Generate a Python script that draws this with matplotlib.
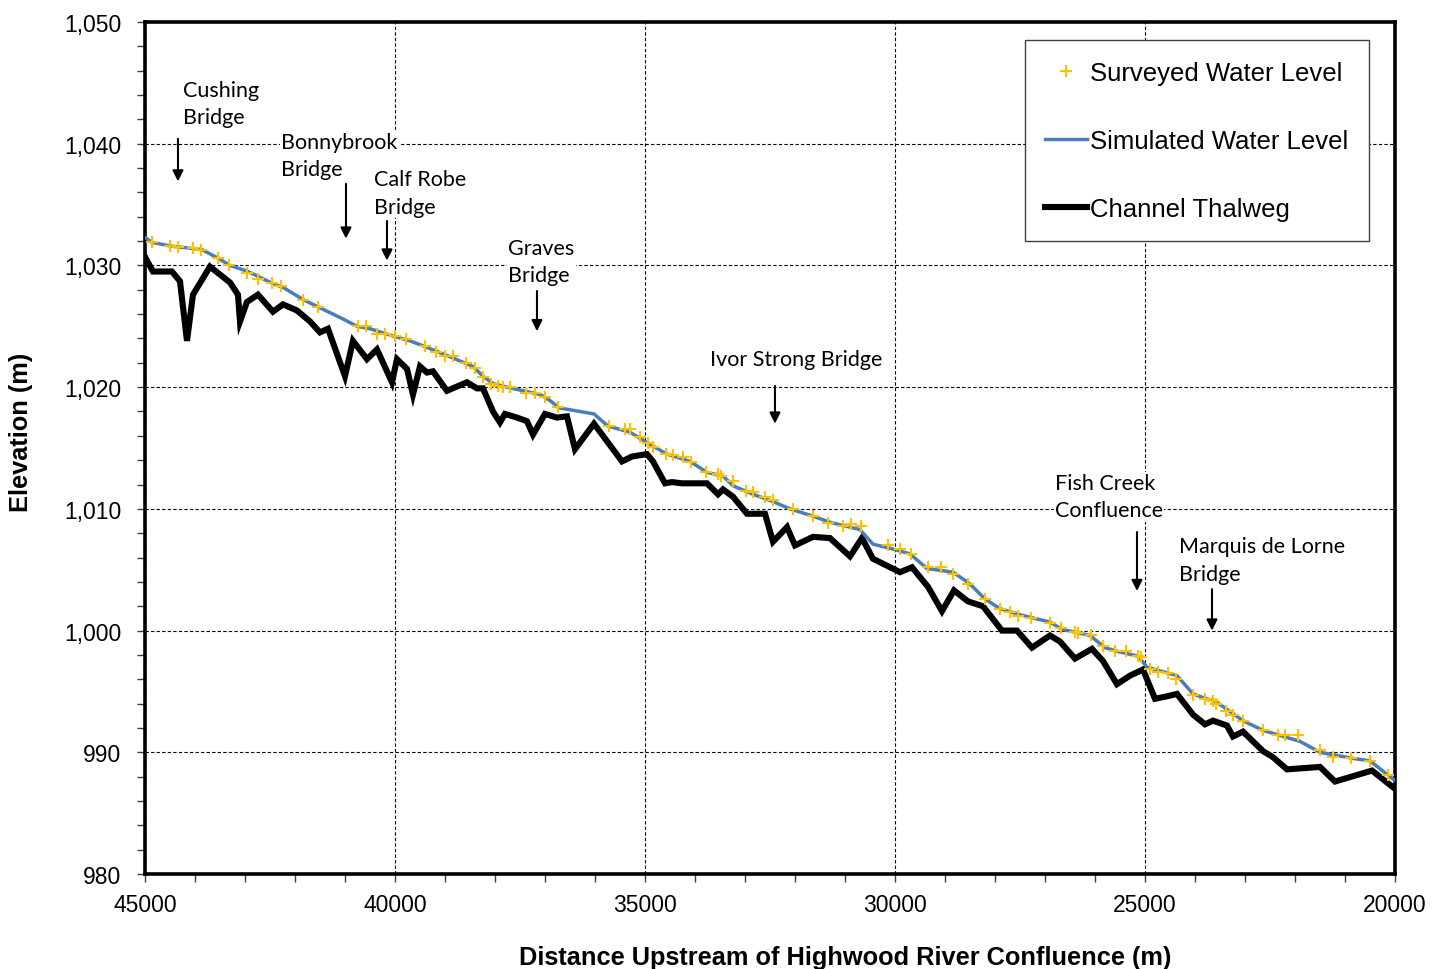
import numpy as np
import matplotlib
matplotlib.use("Agg")
import matplotlib.pyplot as plt
from matplotlib.ticker import MultipleLocator, FuncFormatter

# ---- data ----
thalweg_dist = [45000, 44840, 44460, 44300, 44160, 44040, 43700, 43300, 43140, 43100,
                42960, 42740, 42440, 42240, 41960, 41700, 41500, 41340, 41000, 40840,
                40560, 40360, 40060, 39960, 39760, 39640, 39500, 39360, 39240, 38960,
                38560, 38360, 38240, 38040, 37900, 37800, 37560, 37360, 37240, 37000,
                36760, 36560, 36400, 36020, 35460, 35260, 34960, 34840, 34600, 34460,
                34260, 33760, 33540, 33440, 33240, 32960, 32600, 32440, 32160, 32000,
                31640, 31300, 30900, 30660, 30440, 29900, 29660, 29340, 29060, 28820,
                28540, 28240, 27860, 27560, 27260, 26900, 26700, 26400, 26060, 25840,
                25560, 25300, 25040, 24800, 24560, 24360, 24040, 23800, 23640, 23360,
                23240, 23040, 22640, 22440, 22160, 21500, 21200, 20460, 20000]
thalweg_elev = [1030.7, 1029.5, 1029.5, 1028.7, 1023.8, 1027.6, 1029.9, 1028.6, 1027.6, 1025.4,
                1027.0, 1027.6, 1026.2, 1026.8, 1026.3, 1025.4, 1024.5, 1024.8, 1020.9, 1023.8,
                1022.3, 1023.1, 1020.4, 1022.3, 1021.5, 1019.4, 1021.7, 1021.2, 1021.3, 1019.7,
                1020.4, 1019.9, 1019.9, 1018.0, 1017.1, 1017.8, 1017.5, 1017.2, 1016.1, 1017.8,
                1017.5, 1017.6, 1014.9, 1017.0, 1013.9, 1014.3, 1014.5, 1013.9, 1012.1, 1012.2,
                1012.1, 1012.1, 1011.2, 1011.6, 1011.0, 1009.6, 1009.6, 1007.3, 1008.5, 1007.0,
                1007.7, 1007.6, 1006.1, 1007.6, 1005.9, 1004.8, 1005.2, 1003.6, 1001.6, 1003.3,
                1002.4, 1002.0, 1000.0, 1000.0, 998.6, 999.6, 999.1, 997.7, 998.5, 997.5,
                995.6, 996.3, 996.8, 994.4, 994.6, 994.8, 993.1, 992.3, 992.6, 992.2,
                991.3, 991.7, 990.1, 989.6, 988.6, 988.8, 987.6, 988.5, 987.0]

sim_dist = [45000, 44860, 44500, 43860, 43540, 43300, 42940, 42440, 42240, 41840,
            41540, 41040, 40760, 40500, 40040, 39700, 39440, 38960, 38440, 38240,
            38040, 37760, 37100, 36900, 36720, 36020, 35740, 35300, 34860, 34560,
            34100, 33760, 33440, 33240, 32840, 32440, 32100, 31640, 31300, 30700,
            30440, 30040, 29700, 29360, 28840, 28520, 28200, 27900, 27500, 27300,
            26900, 26660, 26100, 25800, 25560, 25140, 24960, 24360, 24040, 23560,
            23040, 22640, 21900, 21500, 20840, 20500, 20040, 20000]
sim_elev = [1032.3, 1031.9, 1031.6, 1031.3, 1030.6, 1030.0, 1029.5, 1028.5, 1028.2, 1027.2,
            1026.6, 1025.6, 1025.0, 1024.8, 1024.2, 1023.8, 1023.4, 1022.6, 1021.7, 1020.9,
            1020.3, 1020.0, 1019.4, 1018.9, 1018.3, 1017.8, 1016.8, 1016.3, 1015.2, 1014.5,
            1013.9, 1013.0, 1012.7, 1011.9, 1011.2, 1010.6, 1010.0, 1009.4, 1008.9, 1008.3,
            1007.1, 1006.7, 1006.3, 1005.1, 1004.8, 1003.9, 1002.6, 1001.8, 1001.3, 1001.1,
            1000.7, 1000.1, 999.6, 998.6, 998.3, 997.9, 997.0, 996.3, 994.8, 994.1,
            992.6, 991.8, 990.9, 990.0, 989.5, 989.3, 987.8, 987.7]

survey_dist = [44850, 44500, 44330, 44030, 43870, 43530, 43310, 42950, 42730, 42450,
               42270, 41830, 41530, 40730, 40570, 40350, 40200, 40000, 39770, 39400,
               39170, 39000, 38830, 38570, 38400, 38230, 38070, 37930, 37830, 37700,
               37370, 37200, 37000, 36730, 35710, 35400, 35300, 35100, 34930, 34830,
               34570, 34430, 34230, 34070, 33770, 33530, 33470, 33230, 32970, 32830,
               32600, 32430, 32030, 31630, 31330, 31030, 30870, 30670, 30130, 29900,
               29670, 29330, 29070, 28830, 28530, 28200, 27900, 27700, 27530, 27270,
               26900, 26670, 26400, 26330, 26070, 25830, 25600, 25370, 25130, 25070,
               24900, 24730, 24530, 24370, 24030, 23800, 23630, 23570, 23370, 23230,
               23030, 22630, 22330, 22200, 21930, 21500, 21230, 20870, 20500, 20130]
survey_elev = [1031.95, 1031.6, 1031.5, 1031.4, 1031.3, 1030.6, 1030.0, 1029.4, 1028.9, 1028.55,
               1028.3, 1027.2, 1026.55, 1025.05, 1025.05, 1024.4, 1024.4, 1024.2, 1023.95, 1023.4,
               1022.85, 1022.6, 1022.6, 1022.0, 1021.6, 1020.8, 1020.25, 1020.1, 1020.0, 1020.0,
               1019.5, 1019.5, 1019.15, 1018.35, 1016.8, 1016.55, 1016.55, 1015.9, 1015.45, 1015.05,
               1014.5, 1014.4, 1014.25, 1013.85, 1013.0, 1012.9, 1012.7, 1012.3, 1011.5, 1011.35,
               1010.95, 1010.7, 1010.0, 1009.45, 1008.85, 1008.6, 1008.75, 1008.6, 1007.0, 1006.7,
               1006.3, 1005.2, 1005.2, 1004.65, 1003.8, 1002.6, 1001.8, 1001.5, 1001.2, 1001.0,
               1000.6, 1000.2, 999.9, 999.8, 999.6, 998.7, 998.35, 998.35, 997.9, 997.8,
               996.85, 996.6, 996.55, 996.05, 994.7, 994.4, 994.25, 993.95, 993.4, 993.1,
               992.6, 991.85, 991.4, 991.4, 991.4, 990.2, 989.65, 989.5, 989.3, 988.1]

# landmarks: label, location along river
landmark_names = ["Cushing\nBridge", "Bonnybrook\nBridge", "Calf Robe\nBridge", "Graves\nBridge",
                  "Ivor Strong Bridge", "Fish Creek\nConfluence", "Marquis de Lorne\nBridge"]
landmark_dist = [44340, 40980, 40160, 37160, 32400, 25160, 23660]

# layout of labels / arrows (text left edge, text centre y, arrow top y, arrow tip y)
label_x = [44240, 42280, 40420, 37740, 33700, 26800, 24320]
label_y = [1043.3, 1039.0, 1035.95, 1030.3, 1022.3, 1011.0, 1005.8]
arrow_top = [1040.4, 1036.7, 1033.65, 1027.9, 1020.1, 1008.1, 1003.4]
arrow_tip = [1036.9, 1032.2, 1030.4, 1024.6, 1017.0, 1003.25, 1000.0]

TICK_FONT = "Liberation Sans"
NOTE_FONT = "Lato"

fig = plt.figure(figsize=(14.34, 9.70), dpi=100)
ax = fig.add_axes([0.1011, 0.0979, 0.8717, 0.8784])

ax.plot(thalweg_dist, thalweg_elev, color="black", lw=4.4, solid_joinstyle="miter",
        label="Channel Thalweg", zorder=3)
ax.plot(sim_dist, sim_elev, color="#4A7EBB", lw=2.5, label="Simulated Water Level", zorder=4)
ax.plot(survey_dist, survey_elev, linestyle="none", marker="+", ms=8, mew=1.5,
        color="#FFC000", label="Surveyed Water Level", zorder=5)

for name, xt, yt, xa, ytop, ytip in zip(landmark_names, label_x, label_y,
                                       landmark_dist, arrow_top, arrow_tip):
    ax.text(xt, yt, name, ha="left", va="center", fontsize=15.5, family=NOTE_FONT,
            linespacing=1.45, zorder=6,
            bbox=dict(facecolor="white", edgecolor="none", pad=1))
    ax.annotate("", xy=(xa, ytip), xytext=(xa, ytop),
                arrowprops=dict(arrowstyle="-|>", color="black", lw=1.5,
                                mutation_scale=16, shrinkA=0, shrinkB=0), zorder=6)

ax.set_xlim(45000, 20000)
ax.set_ylim(980, 1050)
ax.xaxis.set_major_locator(MultipleLocator(5000))
ax.xaxis.set_minor_locator(MultipleLocator(1000))
ax.yaxis.set_major_locator(MultipleLocator(10))
ax.yaxis.set_minor_locator(MultipleLocator(2))
ax.yaxis.set_major_formatter(FuncFormatter(lambda v, p: f"{v:,.0f}"))

ax.grid(True, which="major", color="black", linestyle=(0, (3, 2)), lw=0.8, zorder=0)
ax.set_axisbelow(True)

for s in ax.spines.values():
    s.set_linewidth(2.6)
ax.tick_params(which="both", direction="out", length=6, width=1, color="#404040",
               labelsize=16.5)
ax.tick_params(axis="y", pad=11)
ax.tick_params(axis="x", pad=8)
for lab in ax.get_xticklabels() + ax.get_yticklabels():
    lab.set_family(TICK_FONT)

ax.set_xlabel("Distance Upstream of Highwood River Confluence (m)", fontsize=18.3,
              fontweight="bold", family=TICK_FONT)
ax.set_ylabel("Elevation (m)", fontsize=18.3, fontweight="bold", family=TICK_FONT)
ax.xaxis.set_label_coords(0.56, -0.083)
ax.yaxis.set_label_coords(-0.0896, 0.519)

handles, labels = ax.get_legend_handles_labels()
order = [2, 1, 0]
leg = ax.legend([handles[i] for i in order], [labels[i] for i in order],
                loc="upper right", bbox_to_anchor=(0.9792, 0.9789), borderaxespad=0,
                prop={"family": TICK_FONT, "size": 18.5}, frameon=True, fancybox=False,
                framealpha=1, edgecolor="#404040", labelspacing=1.72, handlelength=1.62,
                handletextpad=0.12, borderpad=0.8)
leg.get_frame().set_linewidth(1.0)

fig.savefig("out.png", dpi=100)
